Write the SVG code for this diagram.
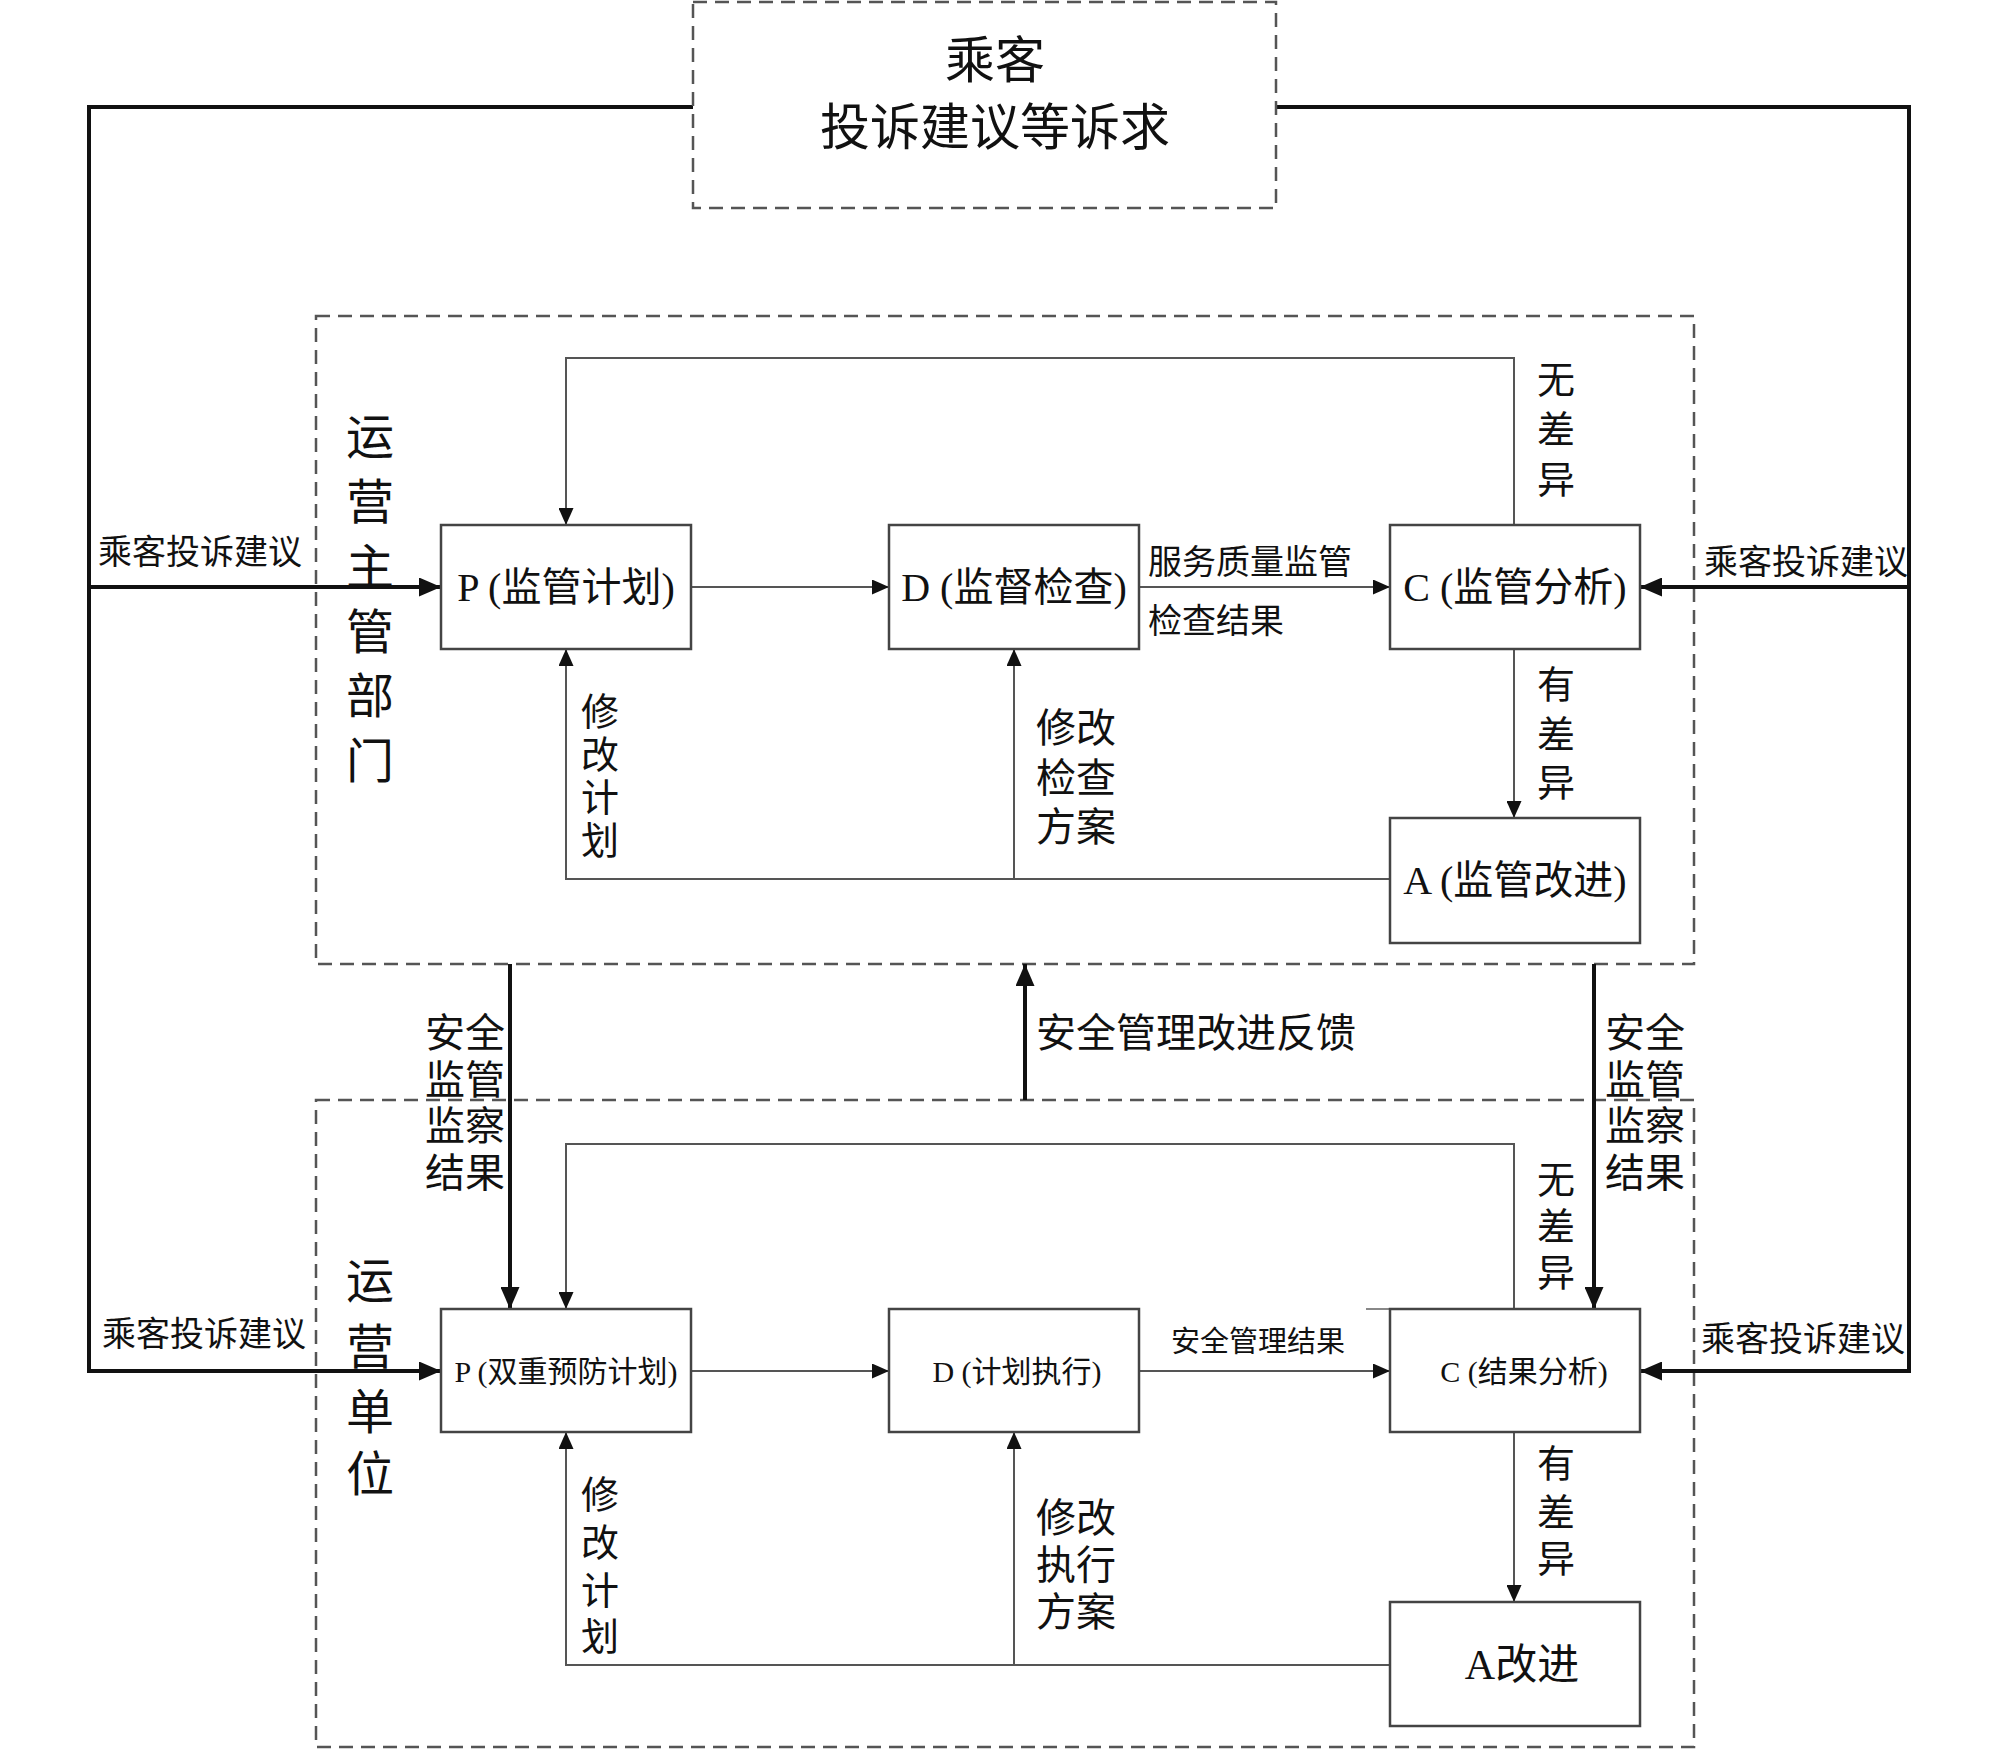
<svg xmlns="http://www.w3.org/2000/svg" width="2000" height="1752" viewBox="0 0 2000 1752">
<style>
text{font-family:"Liberation Serif","Noto Sans CJK SC",serif;fill:#111;dominant-baseline:central}
.box{fill:#fff;stroke:#444;stroke-width:2.5}
.dash{fill:none;stroke:#555;stroke-width:2.5;stroke-dasharray:14 8}
.thin{fill:none;stroke:#555;stroke-width:2}
.thick{fill:none;stroke:#111;stroke-width:4}
.big{font-size:40px}
.small{font-size:30px}
.lab{font-size:34px}
.mid{text-anchor:middle}
</style>
<defs>
<marker id="at" viewBox="0 0 17 15" refX="17" refY="7.5" markerWidth="17" markerHeight="15" markerUnits="userSpaceOnUse" orient="auto"><path d="M0,0 L17,7.5 L0,15 z" fill="#111"/></marker>
<marker id="ak" viewBox="0 0 22 19" refX="22" refY="9.5" markerWidth="22" markerHeight="19" markerUnits="userSpaceOnUse" orient="auto"><path d="M0,0 L22,9.5 L0,19 z" fill="#111"/></marker>
</defs>
<rect width="2000" height="1752" fill="#fff"/>

<g id="region-upper"><rect class="dash" x="316" y="316" width="1378" height="648"/></g>
<g id="region-lower"><rect class="dash" x="316" y="1100" width="1378" height="647"/></g>

<g id="connectors">
<path class="thick" d="M693,107 H89 V1371 H441" marker-end="url(#ak)"/>
<path class="thick" d="M1276,107 H1909 V1371 H1640" marker-end="url(#ak)"/>
<path class="thick" d="M89,587 H441" marker-end="url(#ak)"/>
<path class="thick" d="M1909,587 H1640" marker-end="url(#ak)"/>
<path class="thin" d="M691,587 H889" marker-end="url(#at)"/>
<path class="thin" d="M1139,587 H1390" marker-end="url(#at)"/>
<path class="thin" d="M1514,525 V358 H566 V525" marker-end="url(#at)"/>
<path class="thin" d="M1514,649 V818" marker-end="url(#at)"/>
<path class="thin" d="M1390,879 H566 V649" marker-end="url(#at)"/>
<path class="thin" d="M1014,879 V649" marker-end="url(#at)"/>
<path class="thick" d="M510,964 V1309" marker-end="url(#ak)"/>
<path class="thick" d="M1594,964 V1309" marker-end="url(#ak)"/>
<path class="thick" d="M1025,1100 V964" marker-end="url(#ak)"/>
<path class="thin" d="M691,1371 H889" marker-end="url(#at)"/>
<path class="thin" d="M1139,1371 H1390" marker-end="url(#at)"/>
<path class="thin" d="M1514,1309 V1144 H566 V1309" marker-end="url(#at)"/>
<path class="thin" d="M1514,1432 V1602" marker-end="url(#at)"/>
<path class="thin" d="M1390,1665 H566 V1432" marker-end="url(#at)"/>
<path class="thin" d="M1014,1665 V1432" marker-end="url(#at)"/>
<path d="M1366,1309 H1390" stroke="#888" stroke-width="2"/>
</g>

<g id="node-top">
<rect class="dash" x="693" y="2" width="583" height="206"/>
<text class="mid" x="995" y="61" font-size="50">乘客</text>
<text class="mid" x="995" y="128" font-size="50">投诉建议等诉求</text>
</g>

<g id="node-P1"><rect class="box" x="441" y="525" width="250" height="124"/><text class="mid big" x="566" y="587">P (监管计划)</text></g>
<g id="node-D1"><rect class="box" x="889" y="525" width="250" height="124"/><text class="mid big" x="1014" y="587">D (监督检查)</text></g>
<g id="node-C1"><rect class="box" x="1390" y="525" width="250" height="124"/><text class="mid big" x="1515" y="587">C (监管分析)</text></g>
<g id="node-A1"><rect class="box" x="1390" y="818" width="250" height="125"/><text class="mid big" x="1515" y="880">A (监管改进)</text></g>

<g id="node-P2"><rect class="box" x="441" y="1309" width="250" height="123"/><text class="mid small" x="566" y="1371">P (双重预防计划)</text></g>
<g id="node-D2"><rect class="box" x="889" y="1309" width="250" height="123"/><text class="mid small" x="1017" y="1371">D (计划执行)</text></g>
<g id="node-C2"><rect class="box" x="1390" y="1309" width="250" height="123"/><text class="mid small" x="1524" y="1371">C (结果分析)</text></g>
<g id="node-A2"><rect class="box" x="1390" y="1602" width="250" height="124"/><text class="mid" font-size="42" x="1522" y="1665">A改进</text></g>

<g id="labels">
<text class="mid" font-size="48"><tspan x="370" y="437">运</tspan><tspan x="370" y="502">营</tspan><tspan x="370" y="567">主</tspan><tspan x="370" y="632">管</tspan><tspan x="370" y="696">部</tspan><tspan x="370" y="761">门</tspan></text>
<text class="mid" font-size="48"><tspan x="370" y="1281">运</tspan><tspan x="370" y="1347">营</tspan><tspan x="370" y="1412">单</tspan><tspan x="370" y="1474">位</tspan></text>

<text class="lab" x="98" y="552">乘客投诉建议</text>
<text class="lab" x="1704" y="562">乘客投诉建议</text>
<text class="lab" x="102" y="1334">乘客投诉建议</text>
<text class="lab" x="1701" y="1339">乘客投诉建议</text>

<text class="lab" x="1148" y="562">服务质量监管</text>
<text class="lab" x="1148" y="621">检查结果</text>
<text x="1171" y="1342" font-size="29">安全管理结果</text>

<text class="mid" font-size="38"><tspan x="1556" y="380">无</tspan><tspan x="1556" y="430">差</tspan><tspan x="1556" y="480">异</tspan></text>
<text class="mid" font-size="38"><tspan x="1556" y="685">有</tspan><tspan x="1556" y="735">差</tspan><tspan x="1556" y="783">异</tspan></text>
<text class="mid" font-size="38"><tspan x="1556" y="1180">无</tspan><tspan x="1556" y="1227">差</tspan><tspan x="1556" y="1273">异</tspan></text>
<text class="mid" font-size="38"><tspan x="1556" y="1464">有</tspan><tspan x="1556" y="1513">差</tspan><tspan x="1556" y="1559">异</tspan></text>

<text class="mid" font-size="38"><tspan x="600" y="712">修</tspan><tspan x="600" y="755">改</tspan><tspan x="600" y="798">计</tspan><tspan x="600" y="841">划</tspan></text>
<text class="mid" font-size="38"><tspan x="600" y="1495">修</tspan><tspan x="600" y="1543">改</tspan><tspan x="600" y="1591">计</tspan><tspan x="600" y="1637">划</tspan></text>

<text font-size="40"><tspan x="1036" y="728">修改</tspan><tspan x="1036" y="778">检查</tspan><tspan x="1036" y="827">方案</tspan></text>
<text font-size="40"><tspan x="1036" y="1518">修改</tspan><tspan x="1036" y="1565">执行</tspan><tspan x="1036" y="1612">方案</tspan></text>

<text font-size="40"><tspan x="425" y="1033">安全</tspan><tspan x="425" y="1080">监管</tspan><tspan x="425" y="1126">监察</tspan><tspan x="425" y="1173">结果</tspan></text>
<text font-size="40"><tspan x="1605" y="1033">安全</tspan><tspan x="1605" y="1080">监管</tspan><tspan x="1605" y="1126">监察</tspan><tspan x="1605" y="1173">结果</tspan></text>

<text font-size="40" x="1036" y="1033">安全管理改进反馈</text>
</g>
</svg>
